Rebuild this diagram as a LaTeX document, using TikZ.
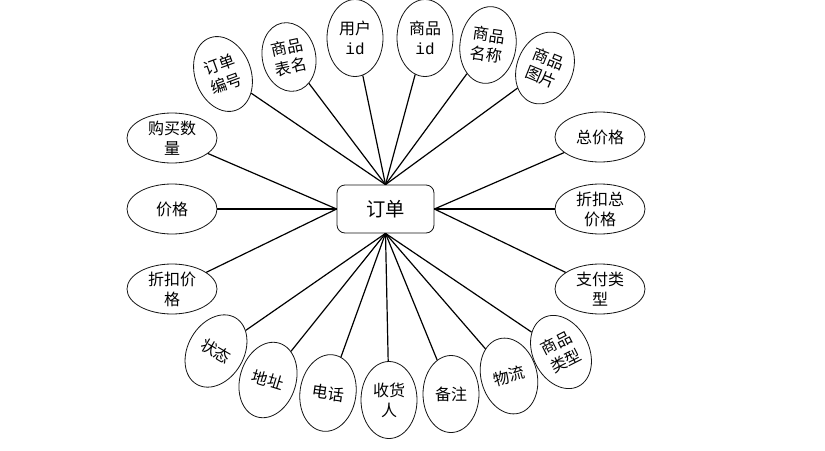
\documentclass[tikz,border=0pt]{standalone}
\usepackage{fontspec}
\newfontfamily\cjk{Noto Sans CJK SC}
\newfontfamily\idfont{Liberation Mono}
\usepackage{tikz}
\usetikzlibrary{shapes.geometric, positioning, calc}
\definecolor{linegray}{RGB}{20, 20, 20}
\tikzset{
  entity/.style={draw=linegray, fill=white, rounded corners=6pt, line width=0.6pt,
    minimum width=72.75pt, minimum height=36pt, inner sep=0pt,
    font={\cjk\fontsize{14.5}{17}\selectfont}},
  vattr/.style={draw=linegray, ellipse, fill=white, line width=0.6pt, inner sep=0pt,
    minimum width=42pt, minimum height=57.75pt, align=center,
    font={\cjk\fontsize{12}{15}\selectfont}},
  hattr/.style={draw=linegray, ellipse, fill=white, line width=0.6pt, inner sep=0pt,
    minimum width=67.5pt, minimum height=37.5pt, align=center,
    font={\cjk\fontsize{12}{15}\selectfont}},
  link/.style={draw=black, line width=0.9pt}
}

\begin{document}
\begin{tikzpicture}[x=0.75pt, y=-0.75pt]
    \useasboundingbox (0,0) rectangle (825,450);

    \node[entity] (order) at (385.5,209) {订单};

    % attributes above
    \node[vattr, rotate=20]  (ddbh) at (223,74) {订单\\编号};
    \node[vattr, rotate=12, minimum width=40pt, minimum height=52pt] (spbm) at (289,57) {商品\\表名};
    \node[vattr]             (yhid) at (355,38) {用户\\{\idfont id}};
    \node[vattr]             (spid) at (425,38) {商品\\{\idfont id}};
    \node[vattr, rotate=-8]  (spmc) at (488,45) {商品\\名称};
    \node[vattr, rotate=-22, minimum height=55.5pt] (sptp) at (545,68) {商品\\图片};

    % attributes left and right
    \node[hattr] (gmsl) at (172,138) {购买数\\量};
    \node[hattr] (jg)   at (172,209) {价格};
    \node[hattr] (zkjg) at (172,289) {折扣价\\格};
    \node[hattr] (zjg)   at (600,137) {总价格};
    \node[hattr] (zkzjg) at (600,209) {折扣总\\价格};
    \node[hattr] (zflx)  at (600,289) {支付类\\型};

    % attributes below
    \node[vattr, rotate=-30] (zt)   at (216,351) {状态};
    \node[vattr, rotate=-17] (dz)   at (268,380) {地址};
    \node[vattr, rotate=-8]  (dh)   at (328,393) {电话};
    \node[vattr]             (shr)  at (389,400) {收货\\人};
    \node[vattr]             (bz)   at (451,394) {备注};
    \node[vattr, rotate=15]  (wl)   at (509,376) {物流};
    \node[vattr, rotate=27]  (splx) at (561,352) {商品\\类型};

    \foreach \a in {ddbh, spbm, yhid, spid, spmc, sptp}
      \draw[link] (\a) -- (order.north);
    \foreach \a in {gmsl, jg, zkjg}
      \draw[link] (\a) -- (order.west);
    \foreach \a in {zjg, zkzjg, zflx}
      \draw[link] (\a) -- (order.east);
    \foreach \a in {zt, dz, dh, shr, bz, wl, splx}
      \draw[link] (\a) -- (order.south);
\end{tikzpicture}
\end{document}
